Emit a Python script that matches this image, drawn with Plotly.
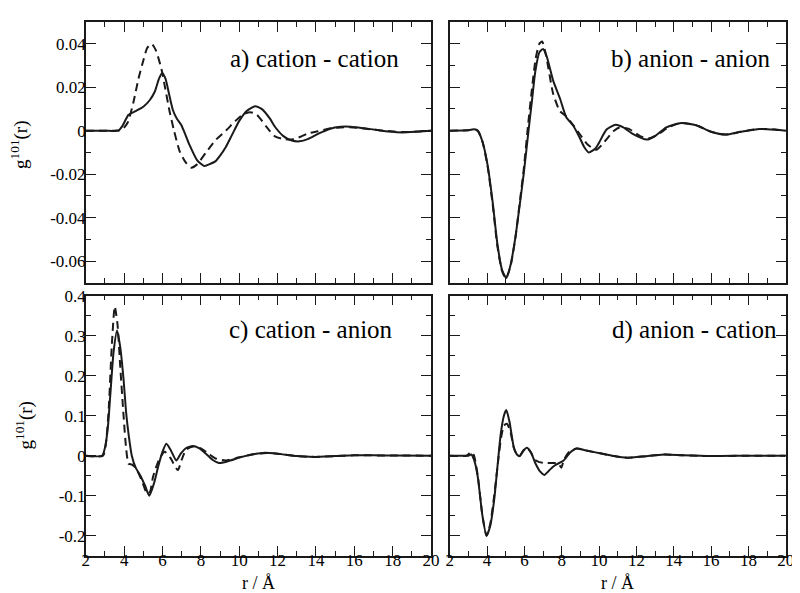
import plotly.graph_objects as go
from plotly.subplots import make_subplots

# a) cation - cation
a_x_solid = [2, 3.0, 3.7, 3.9, 4.23, 4.6, 5.0, 5.34, 5.6, 5.8, 5.98, 6.15, 6.35, 6.54, 6.75, 6.97, 7.2, 7.4,
             7.8, 8.17, 8.5, 8.77, 9.0, 9.3, 9.63, 10.0, 10.4, 10.83, 11.2, 11.6, 11.86, 12.3, 12.7, 13.14,
             13.6, 14.1, 14.7, 15.3, 15.8, 16.5, 17.2, 17.8, 18.5, 19.2, 20]
a_y_solid = [0, 0, 0, 0.002, 0.0073, 0.009, 0.011, 0.0141, 0.018, 0.0235, 0.0265, 0.024, 0.0165, 0.0095,
             0.0055, 0.0027, -0.002, -0.0064, -0.0135, -0.0162, -0.0152, -0.014, -0.0115, -0.0075, -0.0018,
             0.0045, 0.0092, 0.0112, 0.0098, 0.0055, 0.0018, -0.0025, -0.0044, -0.0049, -0.0038, -0.0015,
             0.0008, 0.0018, 0.0018, 0.0011, 0.0003, -0.0004, -0.0008, -0.0005, 0]
a_x_dash = [2, 3.5, 3.9, 4.2, 4.49, 4.75, 5.0, 5.2, 5.43, 5.65, 5.94, 6.15, 6.37, 6.6, 6.89, 7.2, 7.49, 7.8,
            8.26, 8.8, 9.3, 9.8, 10.2, 10.57, 10.9, 11.4, 11.86, 12.3, 12.7, 13.2, 13.6, 14.1, 14.7, 15.3,
            16.0, 16.7, 17.5, 18.2, 18.7, 19.3, 20]
a_y_dash = [0, 0, 0.0005, 0.004, 0.0133, 0.024, 0.0323, 0.038, 0.0399, 0.037, 0.0285, 0.019, 0.0088, 0.0,
            -0.0094, -0.0145, -0.017, -0.0155, -0.0101, -0.004, 0.0, 0.0045, 0.0075, 0.0085, 0.0075, 0.002,
            -0.0026, -0.0038, -0.0041, -0.0028, -0.0012, -0.0003, 0.001, 0.0015, 0.0015, 0.0008, 0.0,
            -0.0005, -0.0006, -0.0004, 0]

# b) anion - anion
b_x_solid = [2, 3.0, 3.3, 3.5, 3.75, 4.02, 4.3, 4.55, 4.8, 5.03, 5.25, 5.52, 5.75, 5.96, 6.22, 6.4, 6.58,
             6.8, 7.0, 7.2, 7.54, 7.9, 8.25, 8.6, 8.95, 9.2, 9.45, 9.8, 10.0, 10.4, 10.89, 11.3, 11.8, 12.56,
             13.0, 13.6, 14.4, 15.2, 16.0, 16.78, 17.6, 18.6, 19.4, 20]
b_y_solid = [0, 0.0002, 0.0006, 0.0, -0.005, -0.0155, -0.033, -0.052, -0.064, -0.0677, -0.062, -0.0488,
             -0.034, -0.02, 0.0, 0.0135, 0.027, 0.036, 0.0376, 0.034, 0.023, 0.0149, 0.006, 0.0025, -0.003,
             -0.0075, -0.0100, -0.0082, -0.0055, 0.0005, 0.0027, 0.0015, -0.0015, -0.0041, -0.0025, 0.0015,
             0.0035, 0.0025, -0.0005, -0.0018, -0.0005, 0.0008, 0.0005, 0]
b_x_dash = [2, 3.0, 3.3, 3.5, 3.75, 4.02, 4.3, 4.55, 4.8, 5.0, 5.25, 5.52, 5.75, 5.96, 6.2, 6.4, 6.6, 6.8,
            6.95, 7.15, 7.54, 7.9, 8.25, 8.6, 9.0, 9.4, 9.85, 10.3, 10.8, 11.1, 11.6, 12.2, 12.7, 13.2, 13.7,
            14.4, 15.2, 16.0, 16.8, 17.6, 18.6, 19.4, 20]
b_y_dash = [0, 0.0002, 0.0006, 0.0, -0.005, -0.016, -0.034, -0.053, -0.0645, -0.068, -0.0625, -0.049,
            -0.033, -0.018, 0.003, 0.019, 0.033, 0.040, 0.041, 0.035, 0.017, 0.009, 0.0065, 0.0027, -0.002,
            -0.0065, -0.0088, -0.005, 0.0, 0.0015, 0.0008, -0.0025, -0.0035, -0.0015, 0.0015, 0.0035,
            0.0025, -0.0005, -0.0018, -0.0005, 0.0008, 0.0005, 0]

# c) cation - anion
c_x_solid = [2, 2.85, 3.0, 3.15, 3.29, 3.45, 3.63, 3.8, 3.97, 4.1, 4.23, 4.4, 4.6, 4.85, 5.09, 5.31, 5.55,
             5.77, 6.0, 6.2, 6.45, 6.72, 6.95, 7.2, 7.57, 7.9, 8.26, 8.6, 8.94, 9.4, 10.14, 10.8, 11.34,
             12.0, 13.0, 13.9, 15.0, 16.0, 17.0, 18.0, 20]
c_y_solid = [0, 0, 0.02, 0.07, 0.16, 0.26, 0.313, 0.27, 0.19, 0.11, 0.054, 0.0, -0.03, -0.05, -0.075, -0.1,
             -0.07, -0.028, 0.01, 0.03, 0.012, -0.012, 0.005, 0.018, 0.024, 0.019, 0.005, -0.01, -0.018,
             -0.014, -0.003, 0.004, 0.0074, 0.005, -0.001, -0.003, -0.001, 0.001, 0.001, 0.0005, 0]
c_x_dash = [2, 2.9, 3.05, 3.2, 3.35, 3.51, 3.65, 3.8, 3.97, 4.1, 4.23, 4.4, 4.6, 4.9, 5.2, 5.35, 5.51, 5.8,
            6.11, 6.4, 6.8, 7.0, 7.23, 7.6, 8.0, 8.4, 8.77, 9.3, 10.0, 10.8, 11.4, 12.0, 13.0, 14.0, 15.0,
            16.0, 18.0, 20]
c_y_dash = [0, 0, 0.03, 0.12, 0.27, 0.373, 0.33, 0.22, 0.1, 0.02, -0.02, -0.022, -0.03, -0.06, -0.095,
            -0.09, -0.052, -0.012, 0.01, -0.005, -0.036, -0.01, 0.015, 0.023, 0.018, 0.005, -0.007, -0.012,
            -0.004, 0.004, 0.007, 0.005, -0.001, -0.003, -0.001, 0.001, 0.0005, 0]

# d) anion - cation
d_x_solid = [2, 2.8, 3.0, 3.15, 3.3, 3.5, 3.75, 3.97, 4.17, 4.38, 4.55, 4.73, 4.9, 5.03, 5.2, 5.43, 5.6,
             5.75, 5.95, 6.14, 6.35, 6.6, 6.85, 7.07, 7.3, 7.6, 8.1, 8.45, 8.8, 9.3, 10.18, 10.8, 11.5, 12.3,
             13.5, 14.5, 16.0, 18.0, 20]
d_y_solid = [0, 0, 0.0, 0.003, -0.01, -0.053, -0.15, -0.2, -0.175, -0.11, -0.03, 0.054, 0.1, 0.114, 0.085,
             0.021, 0.003, -0.001, 0.013, 0.02, 0.008, -0.02, -0.04, -0.048, -0.038, -0.025, -0.012, 0.008,
             0.018, 0.013, 0.005, -0.001, -0.005, -0.002, 0.003, 0.001, -0.001, 0, 0]
d_x_dash = [2, 2.9, 3.05, 3.15, 3.3, 3.5, 3.75, 3.97, 4.17, 4.38, 4.6, 4.75, 4.9, 5.06, 5.25, 5.43, 5.6,
            5.75, 5.95, 6.14, 6.35, 6.55, 6.8, 7.1, 7.5, 7.8, 7.98, 8.1, 8.4, 8.8, 9.3, 10.18, 10.8, 11.5,
            12.3, 13.5, 14.5, 16.0, 18.0, 20]
d_y_dash = [0, 0, 0.006, 0.01, 0.0, -0.05, -0.15, -0.2, -0.17, -0.1, -0.01, 0.045, 0.075, 0.08, 0.06, 0.02,
            0.003, 0.0, 0.013, 0.02, 0.008, -0.01, -0.016, -0.018, -0.018, -0.019, -0.03, -0.012, 0.01,
            0.018, 0.013, 0.005, -0.001, -0.005, -0.002, 0.003, 0.001, -0.001, 0, 0]

panel_labels = ["a) cation - cation", "b) anion - anion", "c) cation - anion", "d) anion - cation"]
x_ticks = [2, 4, 6, 8, 10, 12, 14, 16, 18, 20]
top_ticks = [0.04, 0.02, 0, -0.02, -0.04, -0.06]
top_ticktext = ["0.04", "0.02", "0", "-0.02", "-0.04", "-0.06"]
bot_ticks = [0.4, 0.3, 0.2, 0.1, 0, -0.1, -0.2]
bot_ticktext = ["0.4", "0.3", "0.2", "0.1", "0", "-0.1", "-0.2"]

W, H = 800, 593
FONT = "Liberation Serif, Times New Roman, Times, serif"
INK = "#1a1a1a"

fig = make_subplots(rows=2, cols=2)

series = [
    (1, 1, a_x_solid, a_y_solid, a_x_dash, a_y_dash),
    (1, 2, b_x_solid, b_y_solid, b_x_dash, b_y_dash),
    (2, 1, c_x_solid, c_y_solid, c_x_dash, c_y_dash),
    (2, 2, d_x_solid, d_y_solid, d_x_dash, d_y_dash),
]
for r, c, xs, ys, xd, yd in series:
    fig.add_trace(go.Scatter(x=xd, y=yd, mode="lines", showlegend=False,
                             line=dict(color=INK, width=2, dash="8px,5px", shape="spline", smoothing=0.6)),
                  row=r, col=c)
    fig.add_trace(go.Scatter(x=xs, y=ys, mode="lines", showlegend=False,
                             line=dict(color=INK, width=2, shape="spline", smoothing=0.6)),
                  row=r, col=c)

# panel positions in pixels (left, right, top, bottom)
boxes = {
    (1, 1): (75, 426, 5, 270),
    (1, 2): (445, 786.5, 5, 270),
    (2, 1): (75, 426, 283, 547),
    (2, 2): (445, 786.5, 283, 547),
}
for (r, c), (l, rr, t, b) in boxes.items():
    top = r == 1
    fig.update_xaxes(domain=[l / W, rr / W], range=[2, 20], tickvals=x_ticks,
                     showticklabels=not top, ticks="inside", ticklen=10, tickwidth=1.3, tickcolor=INK,
                     ticklabelstandoff=-12,
                     minor=dict(ticks="inside", ticklen=5, dtick=1, tick0=0, tickcolor=INK, tickwidth=1.3),
                     showline=True, linecolor=INK, linewidth=1.5, mirror="ticks", showgrid=False,
                     zeroline=False, tickfont=dict(family=FONT, size=17, color="black"),
                     row=r, col=c)
    fig.update_yaxes(domain=[1 - b / H, 1 - t / H],
                     range=[-0.07, 0.05] if top else [-0.25, 0.4],
                     tickvals=top_ticks if top else bot_ticks,
                     ticktext=top_ticktext if top else bot_ticktext,
                     showticklabels=(c == 1), ticks="inside", ticklen=10, tickwidth=1.3, tickcolor=INK,
                     ticklabelstandoff=-5,
                     minor=dict(ticks="inside", ticklen=5, dtick=0.01 if top else 0.05, tick0=0,
                                tickcolor=INK, tickwidth=1.3),
                     showline=True, linecolor=INK, linewidth=1.5, mirror="ticks", showgrid=False,
                     zeroline=False, tickfont=dict(family=FONT, size=17, color="black"),
                     row=r, col=c)

# panel labels
label_pos = [(395, 43), (773, 43), (389, 318), (780, 318)]
for text, (px, py) in zip(panel_labels, label_pos):
    fig.add_annotation(x=px / W, y=1 - py / H, xref="paper", yref="paper", text=text, showarrow=False,
                       xanchor="right", yanchor="middle", font=dict(family=FONT, size=25, color="black"))

# axis titles
for px, py in [(7, 130), (13, 415)]:
    fig.add_annotation(x=px / W, y=1 - py / H, xref="paper", yref="paper", text="g<sup>101</sup>(r)",
                       textangle=-90, showarrow=False, xanchor="center", yanchor="middle",
                       font=dict(family=FONT, size=19, color="black"))
for px in [250.5, 615.7]:
    fig.add_annotation(x=px / W, y=1 - 575 / H, xref="paper", yref="paper", text="r / Å",
                       showarrow=False, xanchor="center", yanchor="middle",
                       font=dict(family=FONT, size=18, color="black"))

fig.update_layout(width=W, height=H, margin=dict(l=0, r=0, t=0, b=0),
                  paper_bgcolor="white", plot_bgcolor="white",
                  font=dict(family=FONT, color="black"))

fig.write_html("out.html")
